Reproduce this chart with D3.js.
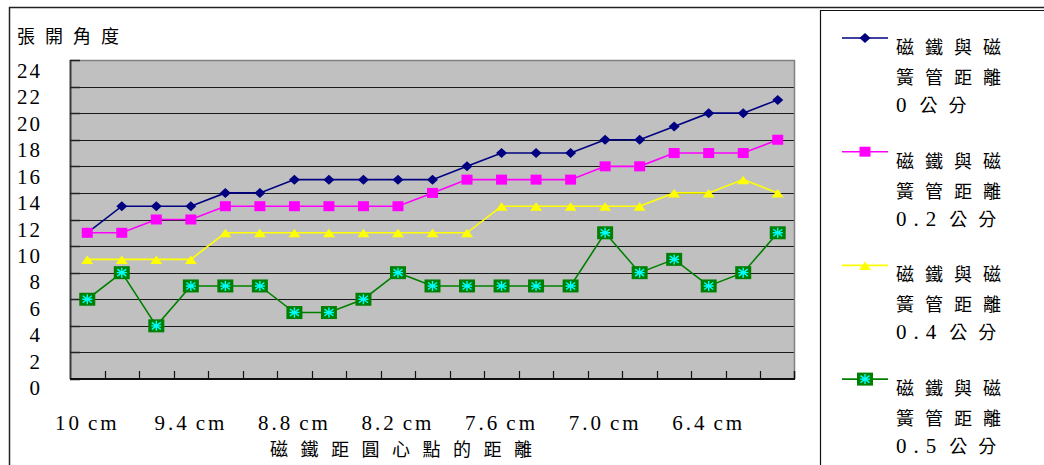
<!DOCTYPE html>
<html>
<head>
<meta charset="utf-8">
<script src="https://cdn.jsdelivr.net/npm/d3@7"></script>
<style>
  html, body { margin: 0; padding: 0; background: #fff; }
  svg { display: block; }
</style>
</head>
<body>
<svg id="chart" width="1044" height="465"></svg>
<script>
// Distance from the magnet to the circle centre (cm)
const categories = ["10", "9.8", "9.6", "9.4", "9.2", "9.0", "8.8", "8.6", "8.4", "8.2", "8.0",
                    "7.8", "7.6", "7.4", "7.2", "7.0", "6.8", "6.6", "6.4", "6.2", "6.0"];
const tickCategories = ["10", "9.4", "8.8", "8.2", "7.6", "7.0", "6.4"];
const yTicks = [0, 2, 4, 6, 8, 10, 12, 14, 16, 18, 20, 22, 24];

// Opening angle for each magnet–reed-switch gap
const gap0   = [11, 13, 13, 13, 14, 14, 15, 15, 15, 15, 15, 16, 17, 17, 17, 18, 18, 19, 20, 20, 21];
const gap02  = [11, 11, 12, 12, 13, 13, 13, 13, 13, 13, 14, 15, 15, 15, 15, 16, 16, 17, 17, 17, 18];
const gap04  = [9, 9, 9, 9, 11, 11, 11, 11, 11, 11, 11, 11, 13, 13, 13, 13, 13, 14, 14, 15, 14];
const gap05  = [6, 8, 4, 7, 7, 7, 5, 5, 6, 8, 7, 7, 7, 7, 7, 11, 8, 9, 7, 8, 11];

const seriesNames = ["0", "0.2", "0.4", "0.5"];
const yTitle = "張開角度";
const xTitle = "磁鐵距圓心點的距離";

const series = [
  { values: gap0,  color: "#000080", marker: "diamond" },
  { values: gap02, color: "#ff00ff", marker: "square" },
  { values: gap04, color: "#ffff00", marker: "triangle" },
  { values: gap05, color: "#008000", marker: "star" }
];

const LATIN = "'Liberation Serif', 'DejaVu Serif', serif";
const CJK = "'Noto Sans CJK TC', 'Noto Sans CJK SC', sans-serif";

const svg = d3.select("#chart");
const plot = { left: 70, right: 795, top: 60, bottom: 379 };

const x = d3.scaleBand().domain(categories).range([plot.left, plot.right]).padding(0);
const y = d3.scaleLinear().domain([0, 24]).range([plot.bottom, plot.top]);
// value labels sit a little below their gridlines
const yLab = d3.scaleLinear().domain([0, 24]).range([395, 78]);

// outer frame
svg.append("line").attr("x1", 9).attr("x2", 1044).attr("y1", 7.5).attr("y2", 7.5)
  .attr("stroke", "#222").attr("stroke-width", 1.5);
svg.append("line").attr("x1", 9.5).attr("x2", 9.5).attr("y1", 7).attr("y2", 465)
  .attr("stroke", "#222").attr("stroke-width", 1.5);

// plot background
svg.append("rect").attr("x", plot.left).attr("y", plot.top)
  .attr("width", plot.right - plot.left).attr("height", plot.bottom - plot.top)
  .attr("fill", "#c0c0c0");

// gridlines
svg.append("g").selectAll("line").data(yTicks.filter(v => v > 0 && v < 24)).join("line")
  .attr("x1", plot.left).attr("x2", plot.right)
  .attr("y1", d => Math.round(y(d)) + 0.5).attr("y2", d => Math.round(y(d)) + 0.5)
  .attr("stroke", "#1a1a1a").attr("stroke-width", 1.2);

// plot border (top / right)
svg.append("path")
  .attr("d", `M${plot.left},${plot.top + 0.5}H${plot.right - 0.5}V${plot.bottom}`)
  .attr("fill", "none").attr("stroke", "#808080").attr("stroke-width", 1.5);

// y axis line and inner ticks
svg.append("line").attr("x1", plot.left + 0.5).attr("x2", plot.left + 0.5)
  .attr("y1", plot.top).attr("y2", plot.bottom)
  .attr("stroke", "#3a3a3a").attr("stroke-width", 2);
svg.append("g").selectAll("line").data(yTicks).join("line")
  .attr("x1", plot.left).attr("x2", plot.left + 10)
  .attr("y1", d => Math.round(y(d)) + 0.5).attr("y2", d => Math.round(y(d)) + 0.5)
  .attr("stroke", "#222").attr("stroke-width", 1.5);

// x axis line and inner ticks at category boundaries
svg.append("line").attr("x1", plot.left).attr("x2", plot.right)
  .attr("y1", plot.bottom).attr("y2", plot.bottom)
  .attr("stroke", "#111").attr("stroke-width", 2);
svg.append("g").selectAll("line").data(categories.slice(1)).join("line")
  .attr("x1", d => Math.round(x(d)) + 0.5).attr("x2", d => Math.round(x(d)) + 0.5)
  .attr("y1", plot.bottom).attr("y2", plot.bottom - 8)
  .attr("stroke", "#111").attr("stroke-width", 1.2);
svg.append("line").attr("x1", plot.right - 0.5).attr("x2", plot.right - 0.5)
  .attr("y1", plot.bottom).attr("y2", plot.bottom - 8)
  .attr("stroke", "#111").attr("stroke-width", 1.5);

// y tick labels
svg.append("g").selectAll("text").data(yTicks).join("text")
  .attr("x", 42).attr("y", d => yLab(d))
  .attr("text-anchor", "end")
  .attr("font-family", LATIN).attr("font-size", 21).attr("letter-spacing", 2)
  .text(d => d);

// x tick labels: number, then unit
const xl = svg.append("g").selectAll("text").data(tickCategories).join("text")
  .attr("x", d => x(d) + x.bandwidth() / 2).attr("y", 430)
  .attr("text-anchor", "middle")
  .attr("font-family", LATIN).attr("font-size", 21).attr("letter-spacing", 3);
xl.append("tspan").text(d => d);
xl.append("tspan").attr("dx", 6).text("cm");

// axis titles
svg.append("text").attr("x", 17).attr("y", 43)
  .attr("font-family", CJK).attr("font-size", 18).attr("letter-spacing", 10)
  .text(yTitle);
svg.append("text").attr("x", 270).attr("y", 456)
  .attr("font-family", CJK).attr("font-size", 18).attr("letter-spacing", 12.5)
  .text(xTitle);

// marker drawing
function drawMarker(g, type, color) {
  if (type === "diamond") {
    g.append("path").attr("d", "M0,-5L5.5,0L0,5L-5.5,0Z").attr("fill", color);
  } else if (type === "square") {
    g.append("rect").attr("x", -5.5).attr("y", -5).attr("width", 11).attr("height", 10)
      .attr("fill", color);
  } else if (type === "triangle") {
    g.append("path").attr("d", "M0,-4L6,4.5L-6,4.5Z").attr("fill", color);
  } else if (type === "star") {
    g.append("rect").attr("x", -8).attr("y", -6.5).attr("width", 16).attr("height", 13)
      .attr("fill", "#008000");
    g.append("path")
      .attr("d", "M0,-5V5M-4.5,-3.5L4.5,3.5M-4.5,3.5L4.5,-3.5M-5,0H5")
      .attr("stroke", "#00ffff").attr("stroke-width", 1.4).attr("fill", "none");
  }
}

const line = d3.line()
  .x((d, i) => x(categories[i]) + x.bandwidth() / 2)
  .y(d => y(d));

series.forEach(s => {
  const g = svg.append("g");
  g.append("path").datum(s.values).attr("d", line)
    .attr("fill", "none").attr("stroke", s.color).attr("stroke-width", 1.6);
  g.selectAll("g").data(s.values).join("g")
    .attr("transform", (d, i) => `translate(${x(categories[i]) + x.bandwidth() / 2},${y(d)})`)
    .each(function () { drawMarker(d3.select(this), s.marker, s.color); });
});

// legend
const legend = svg.append("g");
legend.append("path").attr("d", "M820.5,1000V10.5H1044")
  .attr("fill", "none").attr("stroke", "#111").attr("stroke-width", 1.2);

series.forEach((s, k) => {
  const cy = 47 + k * 113.7;
  const g = legend.append("g");
  g.append("line").attr("x1", 842).attr("x2", 888).attr("y1", cy - 9).attr("y2", cy - 9)
    .attr("stroke", s.color).attr("stroke-width", 1.6);
  const m = g.append("g").attr("transform", `translate(865,${cy - 9})`);
  drawMarker(m, s.marker, s.color);
  ["磁鐵與磁", "簧管距離"].forEach((t, j) => {
    g.append("text").attr("x", 896).attr("y", cy + 7 + j * 30)
      .attr("font-family", CJK).attr("font-size", 18).attr("letter-spacing", 11)
      .text(t);
  });
  const t3 = g.append("text").attr("x", 896).attr("y", cy + 65);
  t3.append("tspan").attr("font-family", LATIN).attr("font-size", 21).attr("letter-spacing", 7)
    .text(seriesNames[k]);
  t3.append("tspan").attr("dx", 6).attr("font-family", CJK).attr("font-size", 18)
    .attr("letter-spacing", 11).text("公分");
});
</script>
</body>
</html>
